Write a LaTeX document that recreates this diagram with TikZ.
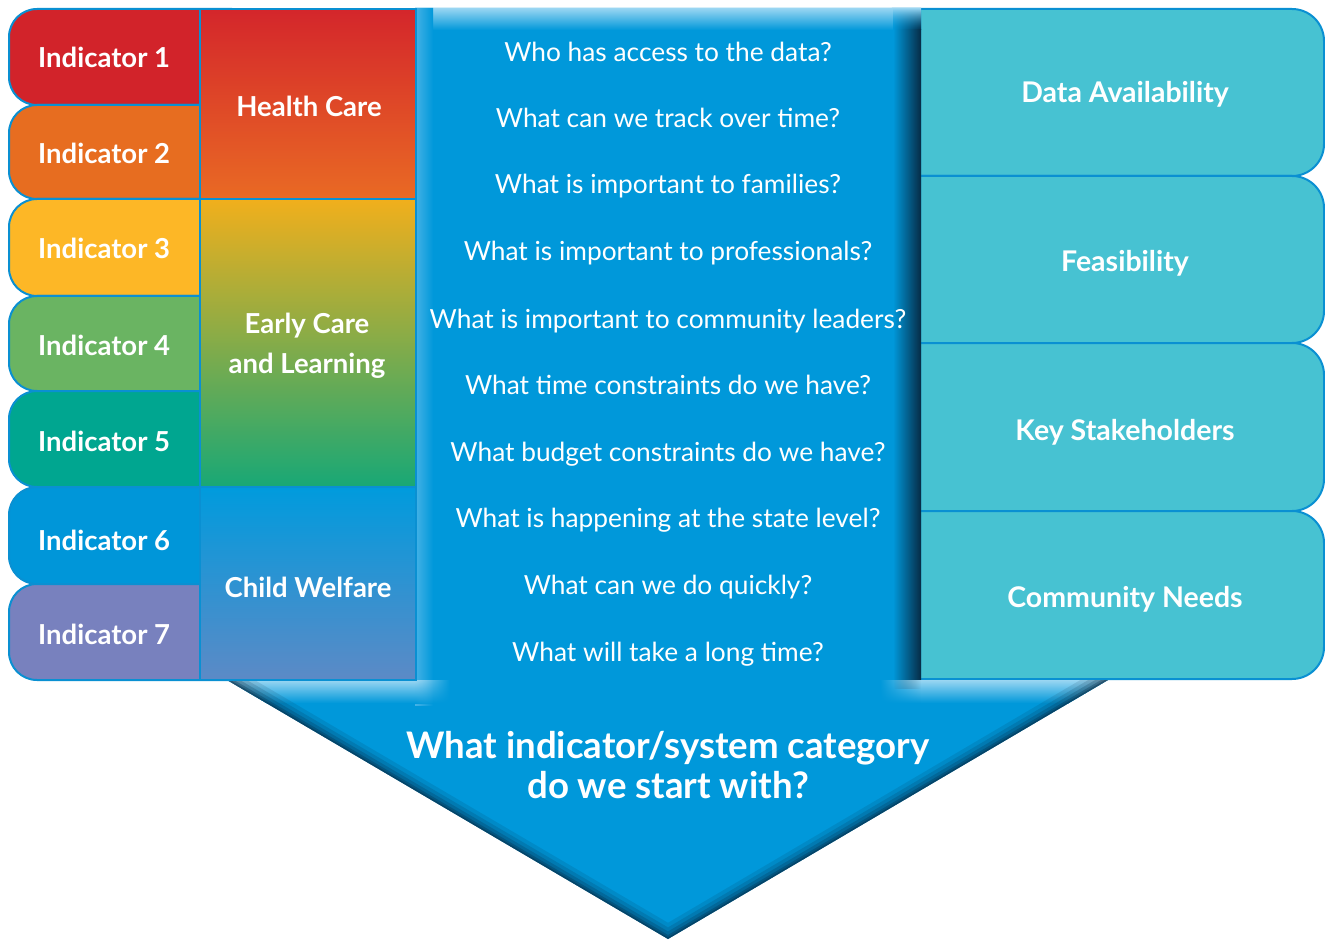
\documentclass[tikz,border=0pt]{standalone}
\usepackage{fontspec}
\setmainfont{Lato}
\usetikzlibrary{fadings}
\tikzfading[name=myfR, left color=transparent!0, right color=transparent!100]
\tikzfading[name=myfL, left color=transparent!100, right color=transparent!0]
\tikzfading[name=myfU, top color=transparent!100, bottom color=transparent!0]
\definecolor{mainb}{HTML}{0098DA}
\definecolor{bord}{HTML}{0A90D2}
\definecolor{hlb}{HTML}{9AD6F2}
\definecolor{hlb2}{HTML}{45B2E6}
\definecolor{navy}{HTML}{072B45}
\definecolor{cI}{HTML}{D2232A}
\definecolor{cII}{HTML}{E76D20}
\definecolor{cIII}{HTML}{FDB726}
\definecolor{cIV}{HTML}{6AB462}
\definecolor{cV}{HTML}{00A690}
\definecolor{cVI}{HTML}{0096D9}
\definecolor{cVII}{HTML}{7881BE}
\definecolor{tealr}{HTML}{47C2D2}
\definecolor{hcT}{HTML}{D4262B}
\definecolor{hcB}{HTML}{E96A24}
\definecolor{ecT}{HTML}{F1AF1C}
\definecolor{ecM}{HTML}{A6AA58}
\definecolor{ecB}{HTML}{18A876}
\definecolor{cwT}{HTML}{009BDD}
\definecolor{cwB}{HTML}{5C8AC6}
\newcommand\labfont{\fontsize{27.5pt}{30pt}\selectfont\bfseries}
\newcommand\rfont{\fontsize{28.5pt}{30pt}\selectfont\bfseries}
\newcommand\qfont{\fontsize{26.3pt}{28pt}\selectfont}
\newcommand\bigfont{\fontsize{36.6pt}{40pt}\selectfont\bfseries}
\tikzset{
  indbox/.style={draw=bord, line width=2pt, rounded corners=28pt},
  catbox/.style={draw=bord, line width=2pt},
  rbox/.style={draw=bord, line width=2pt, fill=tealr, rounded corners=32pt},
  indlab/.style={anchor=base west, inner sep=0pt, text=white, font=\labfont},
  clab/.style={anchor=base, inner sep=0pt, text=white, font=\labfont},
  rlab/.style={anchor=base, inner sep=0pt, text=white, font=\rfont},
  qlab/.style={anchor=base, inner sep=0pt, text=white, font=\qfont},
  blab/.style={anchor=base, inner sep=0pt, text=white, font=\bigfont}
}
\begin{document}
\begin{tikzpicture}[x=1pt,y=-1pt]
\useasboundingbox (0,0) rectangle (1325,941);
% right boxes
\draw[rbox] (860,9) rectangle (1324,176);
\draw[rbox] (860,176) rectangle (1324,343);
\draw[rbox] (860,343) rectangle (1324,511);
\draw[rbox] (860,511) rectangle (1324,679);
% blue arrow
\begin{scope}
\clip (415,8) -- (921,8) -- (921,680) -- (1108,680) -- (668,939) -- (227,680) -- (415,680) -- cycle;
\fill[mainb] (0,0) rectangle (1325,941);
\shade[top color=hlb, bottom color=mainb] (415,8) rectangle (921,30);
\shade[left color=hlb2, right color=mainb] (415,8) rectangle (433,705);
\shade[left color=mainb, right color=navy] (893,30) rectangle (921,688);
\shade[left color=mainb, right color=navy, path fading=myfU] (893,8) rectangle (921,30);
\shade[top color=hlb, bottom color=mainb] (227,680) rectangle (415,703);
\shade[top color=hlb, bottom color=mainb, path fading=myfR] (415,680) rectangle (450,703);
\shade[top color=hlb, bottom color=mainb] (921,680) rectangle (1108,703);
\shade[top color=hlb, bottom color=mainb, path fading=myfL] (880,680) rectangle (921,703);
\foreach \w/\o in {28/0.12, 20/0.16, 13/0.22, 7/0.3, 3/0.4}
  \draw[navy, line width=\w, opacity=\o] (227,680) -- (668,939) -- (1108,680);
\end{scope}
% indicator boxes
\draw[indbox, fill=cI]   (9,9)   rectangle (260,105);
\draw[indbox, fill=cII]  (9,105) rectangle (260,199);
\draw[indbox, fill=cIII] (9,199) rectangle (260,296);
\draw[indbox, fill=cIV]  (9,296) rectangle (260,391);
\draw[indbox, fill=cV]   (9,391) rectangle (260,487);
\draw[indbox, fill=cVI]  (9,487) rectangle (260,584);
\draw[indbox, fill=cVII] (9,584) rectangle (260,680);
% category boxes
\shade[top color=hcT, bottom color=hcB] (200,9) rectangle (416,199);
\shade[top color=ecT, middle color=ecM, bottom color=ecB] (200,199) rectangle (416,487);
\shade[top color=cwT, bottom color=cwB] (200,487) rectangle (416,680);
\draw[catbox] (200,9) rectangle (416,199);
\draw[catbox] (200,199) rectangle (416,487);
\draw[catbox] (200,487) rectangle (416,680);
% indicator labels
\node[indlab] (i1) at (38,68)  {Indicator 1};
\node[indlab] (i2) at (38,164) {Indicator 2};
\node[indlab] (i3) at (38,259) {Indicator 3};
\node[indlab] (i4) at (38,355) {Indicator 4};
\node[indlab] (i5) at (38,451) {Indicator 5};
\node[indlab] (i6) at (38,550) {Indicator 6};
\node[indlab] (i7) at (38,644) {Indicator 7};
% category labels
\node[clab] (hc)  at (309,117) {Health Care};
\node[clab] (ec1) at (307,333) {Early Care};
\node[clab] (ec2) at (307,373) {and Learning};
\node[clab] (cw)  at (308,597) {Child Welfare};
% questions
\node[qlab] (q1)  at (668,62)  {Who has access to the data?};
\node[qlab] (q2)  at (668,128) {What can we track over time?};
\node[qlab] (q3)  at (668,194) {What is important to families?};
\node[qlab] (q4)  at (668,261) {What is important to professionals?};
\node[qlab] (q5)  at (668,328) {What is important to community leaders?};
\node[qlab] (q6)  at (668,394) {What time constraints do we have?};
\node[qlab] (q7)  at (668,461) {What budget constraints do we have?};
\node[qlab] (q8)  at (668,527) {What is happening at the state level?};
\node[qlab] (q9)  at (668,594) {What can we do quickly?};
\node[qlab] (q10) at (668,661) {What will take a long time?};
% right labels
\node[rlab] (r1) at (1125,103) {Data Availability};
\node[rlab] (r2) at (1125,272) {Feasibility};
\node[rlab] (r3) at (1125,440) {Key Stakeholders};
\node[rlab] (r4) at (1125,607) {Community Needs};
% bottom question
\node[blab] (b1) at (668,758) {What indicator/system category};
\node[blab] (b2) at (668,798) {do we start with?};
\end{tikzpicture}
\end{document}
